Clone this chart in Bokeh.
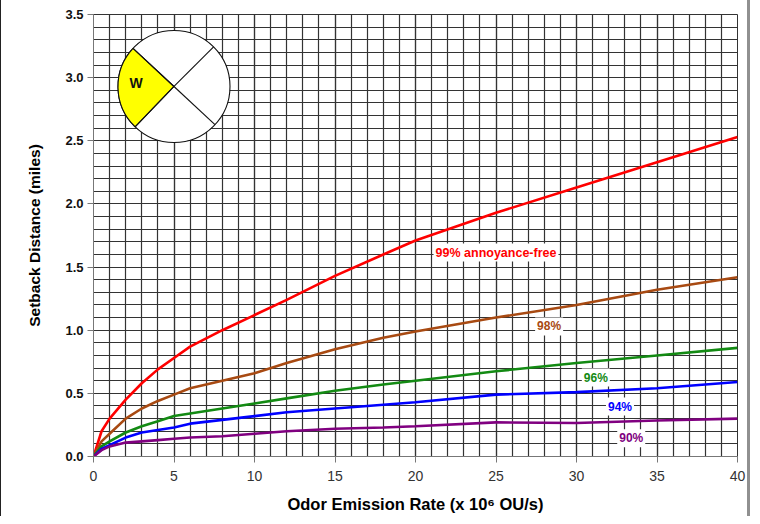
from bokeh.plotting import figure
from bokeh.models import SingleIntervalTicker, PrintfTickFormatter, Label, Range1d
from bokeh.embed import file_html
from bokeh.resources import INLINE
import math

# ---- data ----
emission = [0, 0.5, 1, 2, 3, 4, 5, 6, 8, 10, 12, 15, 18, 20, 25, 30, 35, 40]
pct99 = [0, 0.20, 0.30, 0.45, 0.58, 0.69, 0.78, 0.87, 1.00, 1.12, 1.24, 1.43, 1.60, 1.71, 1.93, 2.13, 2.33, 2.53]
pct98 = [0, 0.12, 0.18, 0.30, 0.38, 0.44, 0.49, 0.54, 0.60, 0.66, 0.74, 0.85, 0.94, 0.99, 1.10, 1.20, 1.32, 1.42]
pct96 = [0, 0.08, 0.12, 0.19, 0.24, 0.28, 0.32, 0.34, 0.38, 0.42, 0.46, 0.52, 0.57, 0.60, 0.675, 0.74, 0.80, 0.86]
pct94 = [0, 0.06, 0.09, 0.15, 0.19, 0.21, 0.23, 0.26, 0.29, 0.32, 0.35, 0.38, 0.41, 0.43, 0.49, 0.51, 0.54, 0.59]
pct90 = [0, 0.05, 0.08, 0.11, 0.12, 0.13, 0.14, 0.15, 0.16, 0.18, 0.20, 0.22, 0.23, 0.24, 0.27, 0.265, 0.285, 0.30]

series_names = ["99% annoyance-free", "98%", "96%", "94%", "90%"]
series_values = [pct99, pct98, pct96, pct94, pct90]
series_colors = ["#FF0000", "#A84A12", "#138A13", "#0000FF", "#800080"]

FONT = "Liberation Sans"

p = figure(width=750, height=516, output_backend="svg", toolbar_location=None,
           x_range=Range1d(0, 40), y_range=Range1d(0, 3.5),
           min_border_left=92, min_border_right=14, min_border_top=14, min_border_bottom=60,
           background_fill_color="white", border_fill_color="white",
           outline_line_color="#333333",
           styles={"border-left": "1px solid #222222", "border-right": "3px solid #909090"})

p.xaxis.ticker = SingleIntervalTicker(interval=5, num_minor_ticks=5)
p.yaxis.ticker = SingleIntervalTicker(interval=0.5, num_minor_ticks=5)
p.yaxis.formatter = PrintfTickFormatter(format="%.1f")

for g in (p.xgrid, p.ygrid):
    g.grid_line_color = "#333333"
    g.grid_line_width = 1.2
    g.minor_grid_line_color = "#333333"
    g.minor_grid_line_width = 1.2

for ax in (p.xaxis, p.yaxis):
    ax.axis_line_color = "#777777"
    ax.major_tick_line_color = "#777777"
    ax.major_tick_out = 6
    ax.major_tick_in = 0
    ax.minor_tick_line_color = None
    ax.axis_label_text_font = FONT
    ax.axis_label_text_font_style = "bold"
    ax.axis_label_text_color = "#000000"
    ax.major_label_text_font = FONT
    ax.major_label_text_font_size = "13px"
    ax.major_label_text_color = "#111111"

p.xaxis.axis_label_text_font_size = "16.5px"
p.yaxis.axis_label_text_font_size = "15.5px"
p.yaxis.major_label_text_font_style = "bold"
p.xaxis.major_label_text_font_size = "14px"
p.xaxis.major_label_text_color = "#333333"
p.xaxis.major_label_standoff = 8
p.yaxis.major_label_standoff = 4
p.xaxis.axis_label = "Odor Emission Rate (x 10\u2076 OU/s)"
p.yaxis.axis_label = "Setback Distance (miles)"
p.xaxis.axis_label_standoff = 11
p.yaxis.axis_label_standoff = 19

for vals, col in zip(series_values, series_colors):
    p.line(emission, vals, line_color=col, line_width=2.6)

# curve labels (annotation positions)
label_pos = [(25.0, 1.615), (28.3, 1.03), (31.2, 0.625), (32.7, 0.395), (33.4, 0.145)]
label_sizes = ["12.5px", "12px", "12px", "12px", "12px"]
for name, col, (lx, ly), fs in zip(series_names, series_colors, label_pos, label_sizes):
    p.add_layout(Label(x=lx, y=ly, text=name, text_color=col, text_font=FONT,
                       text_font_style="bold", text_font_size=fs,
                       text_align="center", text_baseline="middle",
                       background_fill_color="white", background_fill_alpha=1.0,
                       padding=2))

# wind direction compass
cx, cy, r = 5.0, 2.93, 56
p.circle(x=[cx], y=[cy], radius=r, radius_units="screen", fill_color="white",
         line_color="#111111", line_width=1.1)
p.wedge(x=[cx], y=[cy], radius=r, radius_units="screen",
        start_angle=math.radians(137), end_angle=math.radians(226),
        fill_color="#FFFF00", line_color="#111111", line_width=1.1)
p.ray(x=[cx] * 4, y=[cy] * 4, length=r, length_units="screen",
      angle=[math.radians(a) for a in (45, 137, 226, -43)],
      line_color="#111111", line_width=1.1)
p.add_layout(Label(x=cx, y=cy, x_offset=-38, y_offset=3, text="W", text_font=FONT,
                   text_font_style="bold", text_font_size="14px",
                   text_align="center", text_baseline="middle", text_color="#111111"))

open("out.html", "w").write(file_html(p, INLINE))
